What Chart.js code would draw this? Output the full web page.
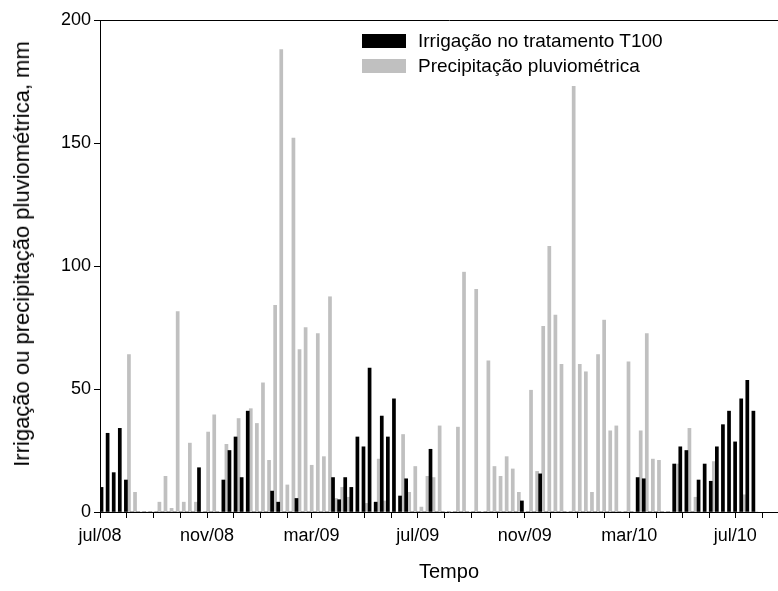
<!DOCTYPE html>
<html lang="pt">
<head>
  <meta charset="UTF-8" />
  <title>Irrigação e precipitação pluviométrica</title>
  <script src="https://cdn.jsdelivr.net/npm/chart.js"></script>
  <style>
    body {
      margin: 0;
      background: #fff;
      overflow: hidden;
    }

    /* o gráfico original é recortado à direita: a área de plotagem passa de 778px */
    .wrap {
      position: relative;
      width: 798px;
      height: 591px;
      font-family: 'Liberation Sans', Arial, sans-serif;
      color: #000;
    }

    .legenda-item {
      position: absolute;
      left: 362px;
      height: 14px;
      display: flex;
      align-items: center;
      font-size: 19px;
      white-space: nowrap;
    }

    .caixa {
      width: 44px;
      height: 14px;
      margin-right: 12px;
    }

    .titulo-y {
      position: absolute;
      left: 22px;
      top: 254px;
      font-size: 22px;
      white-space: nowrap;
      transform: translate(-50%, -50%) rotate(-90deg);
    }
  </style>
</head>
<body>
  <div class="wrap">
    <canvas id="grafico" width="798" height="591"></canvas>
    <div class="titulo-y">Irrigação ou precipitação pluviométrica, mm</div>
    <div class="legenda-item" style="top: 34px;">
      <span class="caixa" style="background: #000;"></span>
      <span>Irrigação no tratamento T100</span>
    </div>
    <div class="legenda-item" style="top: 58.5px;">
      <span class="caixa" style="background: #c0c0c0;"></span>
      <span>Precipitação pluviométrica</span>
    </div>
  </div>

  <script>
    // semanas a partir de 01/jul/2008 (uma posição por semana)
    const irrigacao = [
      10, 32, 16, 34, 13, 0, 0, 0, 0, 0,
      0, 0, 0, 0, 0, 0, 18, 0, 0, 0,
      13, 25, 30.5, 14, 41, 0, 0, 0, 8.5, 4,
      0, 0, 5.5, 0, 0, 0, 0, 0, 14, 5,
      14, 10, 30.5, 26.5, 58.5, 4, 39, 30.5, 46, 6.5,
      13.5, 0, 0, 0, 25.5, 0, 0, 0, 0, 0,
      0, 0, 0, 0, 0, 0, 0, 0, 0, 4.5,
      0, 0, 15.5, 0, 0, 0, 0, 0, 0, 0,
      0, 0, 0, 0, 0, 0, 0, 0, 14, 13.5,
      0, 0, 0, 0, 19.5, 26.5, 25, 0, 13, 19.5,
      12.5, 26.5, 35.5, 41, 28.5, 46, 53.5, 41
    ];

    const precipitacao = [
      0, 0, 0, 0, 64, 8, 0, 0, 0, 4,
      14.5, 1.5, 81.5, 4, 28, 4, 0, 32.5, 39.5, 0,
      27.5, 0, 38, 0, 42, 36, 52.5, 21, 84, 188,
      11, 152, 66, 75, 19, 72.5, 22.5, 87.5, 5.5, 10,
      6, 0, 0, 3.5, 0, 21.5, 4.5, 0, 0, 31.5,
      8, 18.5, 2, 14.5, 14, 35, 0, 0, 34.5, 97.5,
      0, 90.5, 0, 61.5, 18.5, 14.5, 22.5, 17.5, 8, 0,
      49.5, 16.5, 75.5, 108, 80, 60, 0, 173, 60, 57,
      8, 64, 78, 33, 35, 0, 61, 0, 33, 72.5,
      21.5, 21, 0, 0, 19.5, 0, 34, 6, 0, 0,
      20.5, 0, 0, 0, 0, 7, 0, 0
    ];

    const rotulos = ['jul/08', 'nov/08', 'mar/09', 'jul/09', 'nov/09', 'mar/10', 'jul/10'];

    const inicio = Date.UTC(2008, 6, 1);
    const DIA = 86400000;

    // centro de cada semana, em dias desde 01/jul/2008
    const semanas = irrigacao.map((_, i) => i * 7 + 3.5);

    // marcas mensais de jul/08 a set/10
    const diasMeses = [];
    for (let m = 0; m <= 26; m++) {
      diasMeses.push((Date.UTC(2008, 6 + m, 1) - inicio) / DIA);
    }

    const fonte = "'Liberation Sans', Arial, sans-serif";

    new Chart(document.getElementById('grafico'), {
      type: 'bar',
      data: {
        labels: semanas,
        datasets: [
          {
            label: 'Irrigação no tratamento T100',
            data: irrigacao,
            backgroundColor: '#000000'
          },
          {
            label: 'Precipitação pluviométrica',
            data: precipitacao,
            backgroundColor: '#c0c0c0'
          }
        ]
      },
      options: {
        responsive: false,
        animation: false,
        layout: { padding: { top: 20, right: 0, bottom: 0, left: 0 } },
        datasets: {
          bar: { categoryPercentage: 1, barPercentage: 1 }
        },
        plugins: {
          legend: { display: false },
          tooltip: { enabled: false }
        },
        scales: {
          x: {
            type: 'linear',
            min: 0,
            max: 802,
            offset: false,
            afterBuildTicks: s => {
              s.ticks = diasMeses.map(v => ({ value: v }));
            },
            afterFit: s => { s.height = 79; },
            ticks: {
              autoSkip: false,
              maxRotation: 0,
              padding: 7,
              color: '#000',
              font: { family: fonte, size: 18 },
              callback: (v, i) => (i % 4 === 0 ? rotulos[i / 4] : '')
            },
            grid: {
              offset: false,
              drawOnChartArea: false,
              tickLength: 6,
              color: '#000',
              tickColor: '#000'
            },
            border: { color: '#000', width: 1 },
            title: {
              display: true,
              text: 'Tempo',
              color: '#000',
              font: { family: fonte, size: 20 },
              padding: { top: 0, bottom: 7 }
            }
          },
          y: {
            min: 0,
            max: 200,
            afterFit: s => { s.width = 100; },
            ticks: {
              stepSize: 50,
              padding: 3,
              color: '#000',
              font: { family: fonte, size: 18 }
            },
            grid: {
              tickLength: 6,
              tickColor: '#000',
              color: c => (c.tick && c.tick.value === 200 ? '#000' : 'rgba(0,0,0,0)')
            },
            border: { color: '#000', width: 1 }
          }
        }
      }
    });
  </script>
</body>
</html>
